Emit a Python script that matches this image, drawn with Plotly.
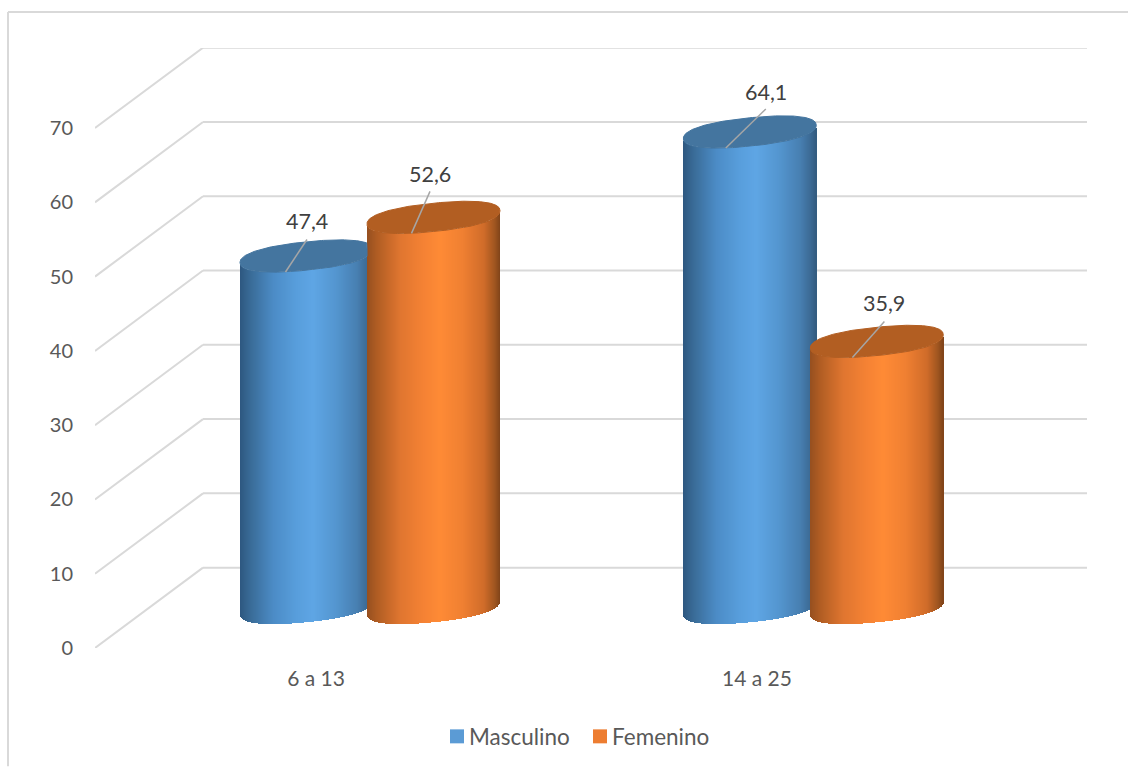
import numpy as np
import plotly.graph_objects as go

# ---- data ----
categories = ["6 a 13", "14 a 25"]
masculino = [47.4, 64.1]
femenino = [52.6, 35.9]
tick_values = [0, 10, 20, 30, 40, 50, 60, 70]
label_text_m = ["47,4", "64,1"]
label_text_f = ["52,6", "35,9"]
series_names = ["Masculino", "Femenino"]
series_colors = ["#5b9bd5", "#ed7d31"]

# ---- page geometry (px) ----
W, H = 1128, 767
L, R, T, B = 95, 1087, 47.5, 648.5
PX_Y = 7.44            # px per value unit
PX_X = 441             # px per category
CAT0_PX = 316          # px of first category label
DEPTH_PX_X, DEPTH_PX_Y = 108, 80.5
MID_DEPTH_PX = 40      # cylinder axis sits this far behind the front plane
GROUP0_PX, GROUP_STEP_PX = 370, 443.3
SPACING_PX = 127       # between paired cylinder centres
A_PX, H_PX, TILT, ROUND = 66.5, 14.2, 0.1, 2.3   # top ellipse half width, half height, slant, roundness

px2x = lambda p: (p - CAT0_PX) / PX_X
dy2v = lambda d: d / PX_Y

x_range = [px2x(L), px2x(R)]
y_range = [0, (B - T) / PX_Y]
GRID = "#d9d9d9"
TEXT = "#595959"
FONT = "Lato"

stops = [0, .08, .25, .42, .55, .72, .88, .96, 1]
blue_stops = [(46, 88, 128), (58, 108, 152), (76, 140, 198), (88, 158, 220), (95, 166, 229),
              (84, 150, 208), (72, 128, 178), (60, 106, 148), (52, 92, 128)]
orange_stops = [(150, 80, 32), (178, 94, 36), (224, 118, 48), (245, 130, 52), (255, 139, 54),
                (240, 128, 50), (208, 108, 42), (160, 86, 32), (128, 68, 26)]


def shade(t, table):
    arr = np.array(table, float)
    return [f"rgb({int(r)},{int(g)},{int(b)})" for r, g, b in
            zip(*(np.interp(t, stops, arr[:, k]) for k in range(3)))]


def curve(d, sign):
    """Offset (px, up positive) of the cap edge at horizontal offset d."""
    rel = np.clip(1 - np.abs(d / A_PX) ** ROUND, 0, 1)
    return TILT * d + sign * H_PX * rel ** (1 / ROUND)


fig = go.Figure()


def cylinder(cx_px, value, table, top_color, clip_px=None):
    d = np.arange(-A_PX + 0.5, A_PX, 1.0)
    t = (d + A_PX) / (2 * A_PX)
    fig.add_trace(go.Bar(
        x=px2x(cx_px + d), y=np.full(d.shape, value),
        base=dy2v(MID_DEPTH_PX + curve(d, -1)), width=1.0 / PX_X,
        marker=dict(color=shade(t, table), line_width=0),
        showlegend=False, hoverinfo="skip"))
    return cx_px, value, top_color, clip_px


tops = []
for i in range(len(categories)):
    centre = GROUP0_PX + GROUP_STEP_PX * i
    left, right = centre - SPACING_PX / 2, centre + SPACING_PX / 2
    clip = right - A_PX if femenino[i] > masculino[i] else None
    tops.append(cylinder(left, masculino[i], blue_stops, "#44759f", clip))
    tops.append(cylinder(right, femenino[i], orange_stops, "#b25e22"))

for cx_px, value, color, clip_px in tops:
    th = np.linspace(0, 2 * np.pi, 241)
    c, s = np.cos(th), np.sin(th)
    d = A_PX * np.sign(c) * np.abs(c) ** (2 / ROUND)
    up = TILT * d + H_PX * np.sign(s) * np.abs(s) ** (2 / ROUND)
    xs = cx_px + d
    if clip_px is not None:
        xs = np.minimum(xs, clip_px)
    fig.add_trace(go.Scatter(x=px2x(xs), y=value + dy2v(MID_DEPTH_PX + up), mode="lines",
                             fill="toself", fillcolor=color, line=dict(width=1, color=color),
                             showlegend=False, hoverinfo="skip"))

# data labels: leader offsets from the cylinder top centre (px: tip dx, top dx, top dy; label dy)
leader_tip_dx = [-21, -22, -24, -24.4]
leader_top_dx = [0.5, -3.5, 16, 7.6]
leader_top_dy = [16.5, 26, 23, 20]
label_dy = [35, 43, 40, 38]
texts = [label_text_m[0], label_text_f[0], label_text_m[1], label_text_f[1]]
lx, ly = [], []
for (cx_px, value, _, _), tip, tdx, tdy, ldy, txt in zip(
        tops, leader_tip_dx, leader_top_dx, leader_top_dy, label_dy, texts):
    base = value + dy2v(MID_DEPTH_PX)
    lx += [px2x(cx_px + tip), px2x(cx_px + tdx), None]
    ly += [base - dy2v(16), base + dy2v(tdy), None]
    fig.add_annotation(x=px2x(cx_px + tdx), y=base + dy2v(ldy), text=txt, showarrow=False,
                       font=dict(family=FONT, size=21.5, color="#404040"))
fig.add_trace(go.Scatter(x=lx, y=ly, mode="lines", line=dict(color="#a6a6a6", width=1.5),
                         showlegend=False, hoverinfo="skip"))

pw, ph = R - L, B - T
fx = lambda p: (p - L) / pw
fy = lambda p: (B - p) / ph

# wall: one bent line per tick
shapes = []
x_front, x_back = px2x(L), px2x(L + DEPTH_PX_X)
for v in tick_values:
    v_back = v + dy2v(DEPTH_PX_Y)
    shapes.append(dict(type="line", layer="below", xref="x", yref="y", x0=x_front, x1=x_back,
                       y0=v, y1=v_back, line=dict(color=GRID, width=2)))
    shapes.append(dict(type="line", layer="below", xref="x", yref="y", x0=x_back, x1=x_range[1],
                       y0=v_back, y1=v_back, line=dict(color=GRID, width=2)))

# outer frame (cut by the page on the right and bottom)
shapes.append(dict(type="line", xref="paper", yref="paper", x0=fx(8), x1=fx(8), y0=fy(11.5), y1=fy(H),
                   line=dict(color=GRID, width=2)))
shapes.append(dict(type="line", xref="paper", yref="paper", x0=fx(8), x1=fx(W), y0=fy(11.5), y1=fy(11.5),
                   line=dict(color=GRID, width=2)))

# legend: tight swatch + text, as in the reference
legend_swatch_px = [450, 593]
for name, color, sx in zip(series_names, series_colors, legend_swatch_px):
    shapes.append(dict(type="rect", xref="paper", yref="paper", x0=fx(sx), x1=fx(sx + 14),
                       y0=fy(744), y1=fy(730), fillcolor=color, line_width=0))
    fig.add_annotation(xref="paper", yref="paper", x=fx(sx + 17), y=fy(737), xanchor="left", yanchor="middle",
                       text=name, showarrow=False, font=dict(family=FONT, size=22.5, color=TEXT))

fig.update_layout(
    width=W, height=H, autosize=False, barmode="overlay", bargap=0, showlegend=False,
    margin=dict(l=L, r=W - R, t=T, b=H - B, pad=0, autoexpand=False),
    paper_bgcolor="white", plot_bgcolor="white",
    shapes=shapes,
    font=dict(family=FONT, size=20, color=TEXT),
    xaxis=dict(range=x_range, tickmode="array", tickvals=list(range(len(categories))), ticktext=categories,
               showgrid=False, zeroline=False, showline=False, ticks="outside", ticklen=12,
               tickcolor="rgba(0,0,0,0)", tickfont=dict(family=FONT, size=21, color=TEXT)),
    yaxis=dict(range=y_range, tickmode="array", tickvals=tick_values, showgrid=False, zeroline=False,
               showline=False, ticks="outside", ticklen=17, tickcolor="rgba(0,0,0,0)",
               tickfont=dict(family=FONT, size=20, color=TEXT)),
)
fig.write_html("out.html", config={"displayModeBar": False},
               post_script="document.body.style.margin='0';")
